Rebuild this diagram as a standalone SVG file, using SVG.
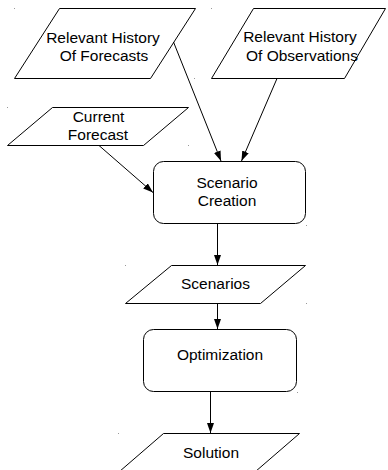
<svg xmlns="http://www.w3.org/2000/svg" width="388" height="470" viewBox="0 0 388 470">
<defs>
<style>
.shape{fill:#fff;stroke:#000;stroke-width:1}
.lbl{font-family:"Liberation Sans",Arial,sans-serif;font-size:15.5px;fill:#000;text-anchor:middle}
.conn{stroke:#000;stroke-width:1;fill:none}
.dot{fill:#999}
</style>
<marker id="ah" markerUnits="userSpaceOnUse" markerWidth="11" markerHeight="8" refX="10" refY="3.5" orient="auto">
<path d="M0,0 L10,3.5 L0,7 z" fill="#000"/>
</marker>
</defs>
<rect width="388" height="470" fill="#fff"/>
<g id="hist-forecasts">
<polygon class="shape" points="59.5,8.5 195.5,8.5 150.5,78.5 14.5,78.5"/>
<text class="lbl" x="103" y="42.5">Relevant History</text>
<text class="lbl" x="104" y="61">Of Forecasts</text>
</g>
<g id="hist-observations">
<polygon class="shape" points="253.5,8.5 385.5,8.5 344.5,78.5 211.5,78.5"/>
<text class="lbl" x="300" y="42">Relevant History</text>
<text class="lbl" x="302" y="60.5">Of Observations</text>
</g>
<g id="current-forecast">
<polygon class="shape" points="52.5,107.5 188.5,107.5 143.5,145.5 7.5,145.5"/>
<text class="lbl" x="98.5" y="121.5">Current</text>
<text class="lbl" x="98" y="139.5">Forecast</text>
</g>
<g id="scenario-creation">
<rect class="shape" x="153.5" y="161.5" width="152" height="62" rx="10"/>
<text class="lbl" x="227" y="188">Scenario</text>
<text class="lbl" x="227" y="206">Creation</text>
</g>
<g id="scenarios">
<polygon class="shape" points="171.5,265.5 305.5,265.5 260.5,303.5 125.5,303.5"/>
<text class="lbl" x="215.5" y="289">Scenarios</text>
</g>
<g id="optimization">
<rect class="shape" x="143.5" y="329.5" width="153" height="62" rx="10"/>
<text class="lbl" x="220" y="359.5">Optimization</text>
</g>
<g id="solution">
<polygon class="shape" points="163.5,433.5 299.5,433.5 255.5,471.5 119.5,471.5"/>
<text class="lbl" x="211" y="457.5">Solution</text>
</g>
<g id="connectors">
<line class="conn" x1="173.5" y1="42" x2="221" y2="161" marker-end="url(#ah)"/>
<line class="conn" x1="277" y1="78.5" x2="241.5" y2="161" marker-end="url(#ah)"/>
<line class="conn" x1="99" y1="145.5" x2="153" y2="192.5" marker-end="url(#ah)"/>
<line class="conn" x1="217.5" y1="223.5" x2="217.5" y2="265" marker-end="url(#ah)"/>
<line class="conn" x1="217.5" y1="303.5" x2="217.5" y2="329" marker-end="url(#ah)"/>
<line class="conn" x1="210.5" y1="391.5" x2="210.5" y2="433" marker-end="url(#ah)"/>
</g>
<g id="marks">
<rect class="dot" x="14" y="8" width="1" height="1"/>
<rect class="dot" x="194" y="78" width="1" height="1"/>
<rect class="dot" x="211" y="8" width="1" height="1"/>
<rect class="dot" x="7" y="107" width="1" height="1"/>
<rect class="dot" x="188" y="145" width="1" height="1"/>
<rect class="dot" x="306" y="225" width="1" height="1"/>
<rect class="dot" x="125" y="265" width="1" height="1"/>
<rect class="dot" x="306" y="303" width="1" height="1"/>
<rect class="dot" x="297" y="392" width="1" height="1"/>
<rect class="dot" x="118" y="433" width="1" height="1"/>
</g>
</svg>
